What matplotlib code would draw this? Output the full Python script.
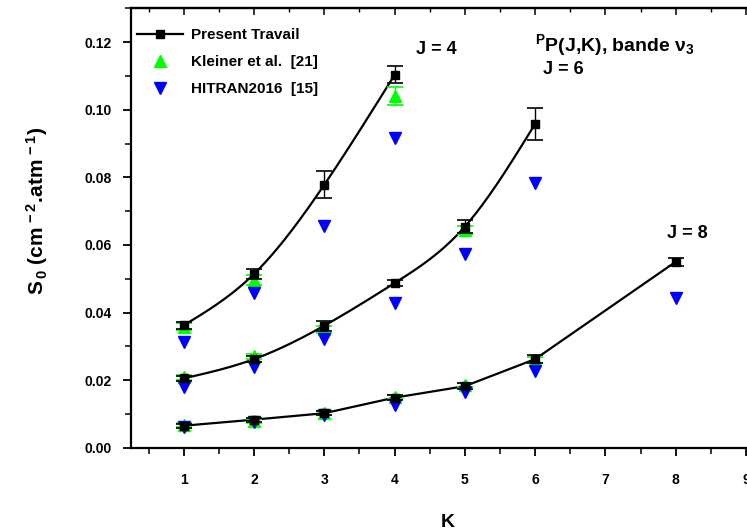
import numpy as np
import matplotlib
matplotlib.use("Agg")
import matplotlib.pyplot as plt
from matplotlib.ticker import MultipleLocator

plt.rcParams['font.family'] = ['Liberation Sans', 'DejaVu Sans']
plt.rcParams['font.weight'] = 'bold'
plt.rcParams['mathtext.fontset'] = 'custom'
plt.rcParams['mathtext.rm'] = 'Liberation Sans:bold'
plt.rcParams['mathtext.it'] = 'Liberation Sans:bold'
plt.rcParams['mathtext.bf'] = 'Liberation Sans:bold'

# ---- data ----
K_j4 = [1, 2, 3, 4]
S_j4 = [0.0362, 0.0514, 0.0778, 0.1103]
E_j4 = [0.0010, 0.0015, 0.0040, 0.0025]
K_j6 = [1, 2, 3, 4, 5, 6]
S_j6 = [0.0205, 0.0262, 0.0361, 0.0487, 0.0654, 0.0958]
E_j6 = [0.0008, 0.0008, 0.0015, 0.0010, 0.0019, 0.0047]
K_j8 = [1, 2, 3, 4, 5, 6, 8]
S_j8 = [0.0065, 0.0083, 0.0102, 0.0148, 0.0182, 0.0262, 0.0550]
E_j8 = [0.0006, 0.0006, 0.0006, 0.0008, 0.0008, 0.0012, 0.0012]

K_kl = [1, 2, 4, 1, 2, 3, 5, 1, 2, 3, 4, 5, 6]
S_kl = [0.0358, 0.0496, 0.1040, 0.0208, 0.0270, 0.0350, 0.0645,
        0.0067, 0.0080, 0.0102, 0.0150, 0.0186, 0.0260]
E_kl = [0.0010, 0.0015, 0.0027, 0.0007, 0.0008, 0.0010, 0.0012,
        0.0006, 0.0006, 0.0006, 0.0006, 0.0006, 0.0008]

K_hi = [1, 2, 3, 4, 1, 2, 3, 4, 5, 6, 1, 2, 3, 4, 5, 6, 8]
S_hi = [0.0312, 0.0458, 0.0656, 0.0917, 0.0180, 0.0240, 0.0322, 0.0428,
        0.0572, 0.0782, 0.0060, 0.0076, 0.0096, 0.0125, 0.0165, 0.0228, 0.0443]

xticks = [1, 2, 3, 4, 5, 6, 7, 8, 9]
yticks = [0.00, 0.02, 0.04, 0.06, 0.08, 0.10, 0.12]


def natural_spline(x, y, n=200):
    x = np.asarray(x, float); y = np.asarray(y, float)
    m = len(x)
    h = np.diff(x)
    A = np.zeros((m, m)); b = np.zeros(m)
    A[0, 0] = 1; A[-1, -1] = 1
    for i in range(1, m - 1):
        A[i, i - 1] = h[i - 1]
        A[i, i] = 2 * (h[i - 1] + h[i])
        A[i, i + 1] = h[i]
        b[i] = 3 * ((y[i + 1] - y[i]) / h[i] - (y[i] - y[i - 1]) / h[i - 1])
    c = np.linalg.solve(A, b)
    xs = np.linspace(x[0], x[-1], n)
    ys = np.empty_like(xs)
    for k, xv in enumerate(xs):
        i = min(np.searchsorted(x, xv, side='right') - 1, m - 2)
        bb = (y[i + 1] - y[i]) / h[i] - h[i] * (2 * c[i] + c[i + 1]) / 3
        d = (c[i + 1] - c[i]) / (3 * h[i])
        t = xv - x[i]
        ys[k] = y[i] + bb * t + c[i] * t ** 2 + d * t ** 3
    return xs, ys


fig = plt.figure(figsize=(7.47, 5.30), dpi=100)
ax = fig.add_axes([0.1754, 0.1553, 0.8467, 0.829])

# connecting lines
xs, ys = natural_spline(K_j4, S_j4)
ax.plot(xs, ys, color='black', lw=1.6, zorder=2)
xs, ys = natural_spline(K_j6, S_j6)
ax.plot(xs, ys, color='black', lw=1.6, zorder=2)
ax.plot(K_j8, S_j8, color='black', lw=1.6, zorder=2)

# Kleiner
ax.errorbar(K_kl, S_kl, yerr=E_kl, fmt='^', color='#00ff00', ms=9,
            ecolor='#00ff00', elinewidth=1, capsize=6, capthick=1.2, zorder=3)
# HITRAN
ax.plot(K_hi, S_hi, 'v', color='#0000ff', ms=9, zorder=4)
# Present
for kk, ss, ee in [(K_j4, S_j4, E_j4), (K_j6, S_j6, E_j6), (K_j8, S_j8, E_j8)]:
    ax.errorbar(kk, ss, yerr=ee, fmt='s', color='black', ms=6,
                ecolor='black', elinewidth=1, capsize=6, capthick=1.2, zorder=5)

# legend proxies
h1, = ax.plot([], [], '-s', color='black', ms=6, lw=1.6, label='Present Travail')
h2, = ax.plot([], [], '^', color='#00ff00', ms=9, label='Kleiner et al.  [21]')
h3, = ax.plot([], [], 'v', color='#0000ff', ms=9, label='HITRAN2016  [15]')
leg = ax.legend(handles=[h1, h2, h3], loc='upper left', bbox_to_anchor=(-0.005, 0.975),
                frameon=False, fontsize=11, handlelength=3.0, labelspacing=0.85,
                borderaxespad=0.2, handletextpad=0.5)
for t in leg.get_texts():
    t.set_fontweight('bold')

ax.set_xlim(0.25, 9.25)
ax.set_ylim(0.0, 0.13)
ax.set_xticks(xticks)
ax.set_xticklabels([str(v) for v in xticks])
ax.set_yticks(yticks)
ax.set_yticklabels(['%.2f' % v for v in yticks])
ax.xaxis.set_minor_locator(MultipleLocator(0.5))
ax.yaxis.set_minor_locator(MultipleLocator(0.01))
ax.tick_params(which='major', direction='out', length=6, width=1.3,
               labelsize=10, pad=12)
ax.tick_params(which='minor', direction='out', length=4, width=1.1)
for lab in ax.get_xticklabels() + ax.get_yticklabels():
    lab.set_fontweight('bold')
ax.tick_params(axis='y', pad=8)
for sp in ax.spines.values():
    sp.set_linewidth(1.6)

# mirrored top ticks, pointing inward
sec = ax.secondary_xaxis('top')
sec.set_xticks(xticks)
sec.xaxis.set_minor_locator(MultipleLocator(0.5))
sec.tick_params(which='major', direction='in', length=5, width=1.1, labeltop=False)
sec.tick_params(which='minor', direction='in', length=3, width=1.0)
sec.set_xticklabels([])
sec.spines['top'].set_linewidth(1.6)

ax.set_xlabel('K', fontsize=14, fontweight='bold', labelpad=20)
ax.set_ylabel(r'S$_{\,0}$ (cm$^{\,-2}$.atm$^{\,-1}$)', fontsize=15, fontweight='bold')
ax.yaxis.set_label_coords(-0.128, 0.54)

ax.text(4.31, 0.1177, 'J = 4', fontsize=13, fontweight='bold', va='center', ha='left')
ax.text(6.11, 0.1118, 'J = 6', fontsize=13, fontweight='bold', va='center', ha='left')
ax.text(7.88, 0.0633, 'J = 8', fontsize=13, fontweight='bold', va='center', ha='left')
ax.text(6.0, 0.1192, r'$^{P}$P(J,K), bande $\nu_{3}$', fontsize=14, fontweight='bold',
        va='center', ha='left')

fig.savefig('out.png', dpi=100)
